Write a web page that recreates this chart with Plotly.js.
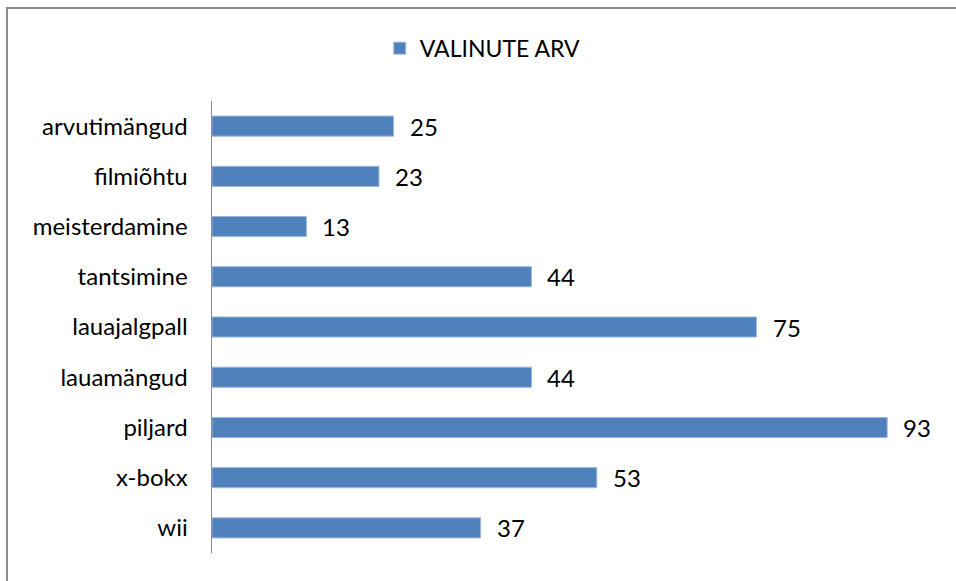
<!DOCTYPE html>
<html><head><meta charset="utf-8">
<script src="https://cdn.plot.ly/plotly-3.0.1.min.js"></script>
<style>html,body{margin:0;padding:0;background:#fff}#frame{position:absolute;left:6px;top:7px;width:960px;height:590px;border-left:2px solid #8a8a8a;border-top:2px solid #8a8a8a;pointer-events:none}</style>
</head><body>
<div id="chart" style="width:956px;height:581px;position:absolute;left:0;top:0"></div>
<div id="frame"></div>
<script>
const categories = ["arvutimängud","filmiõhtu","meisterdamine","tantsimine","lauajalgpall","lauamängud","piljard","x-bokx","wii"];
const values = [25,23,13,44,75,44,93,53,37];
const seriesName = "VALINUTE ARV";
const font = "Lato, 'Open Sans', sans-serif";
const trace = {
  type:'bar', orientation:'h', y:categories, x:values, name:seriesName,
  marker:{color:'#4f81bd', line:{color:'#9db8dc', width:1}},
  hoverinfo:'x+y'
};
const annotations = values.map((v,i)=>({x:v, y:categories[i], xref:'x', yref:'y', text:String(v), showarrow:false, xanchor:'left', xshift:14, font:{family:font,size:24,color:'#000'}}));
const layout = {
  width:956, height:581,
  margin:{l:212, r:18, t:101, b:28},
  paper_bgcolor:'#fff', plot_bgcolor:'#fff',
  font:{family:font, size:24, color:'#000'},
  bargap:0.6,
  showlegend:true,
  legend:{orientation:'h', xref:'container', yref:'container', x:0.505, xanchor:'center', y:0.917, yanchor:'middle', font:{family:font,size:23,color:'#000'}, itemwidth:30},
  xaxis:{range:[0,100], showgrid:false, zeroline:false, showticklabels:false, ticks:'', showline:false, fixedrange:true},
  yaxis:{autorange:'reversed', showline:true, linecolor:'#8a8a8a', linewidth:1.5, ticks:'', ticklabelstandoff:18, showgrid:false, zeroline:false, tickfont:{family:font,size:24,color:'#000'}},
  annotations:annotations
};
Plotly.newPlot('chart',[trace],layout,{displayModeBar:false,staticPlot:true});
</script>
</body></html>
